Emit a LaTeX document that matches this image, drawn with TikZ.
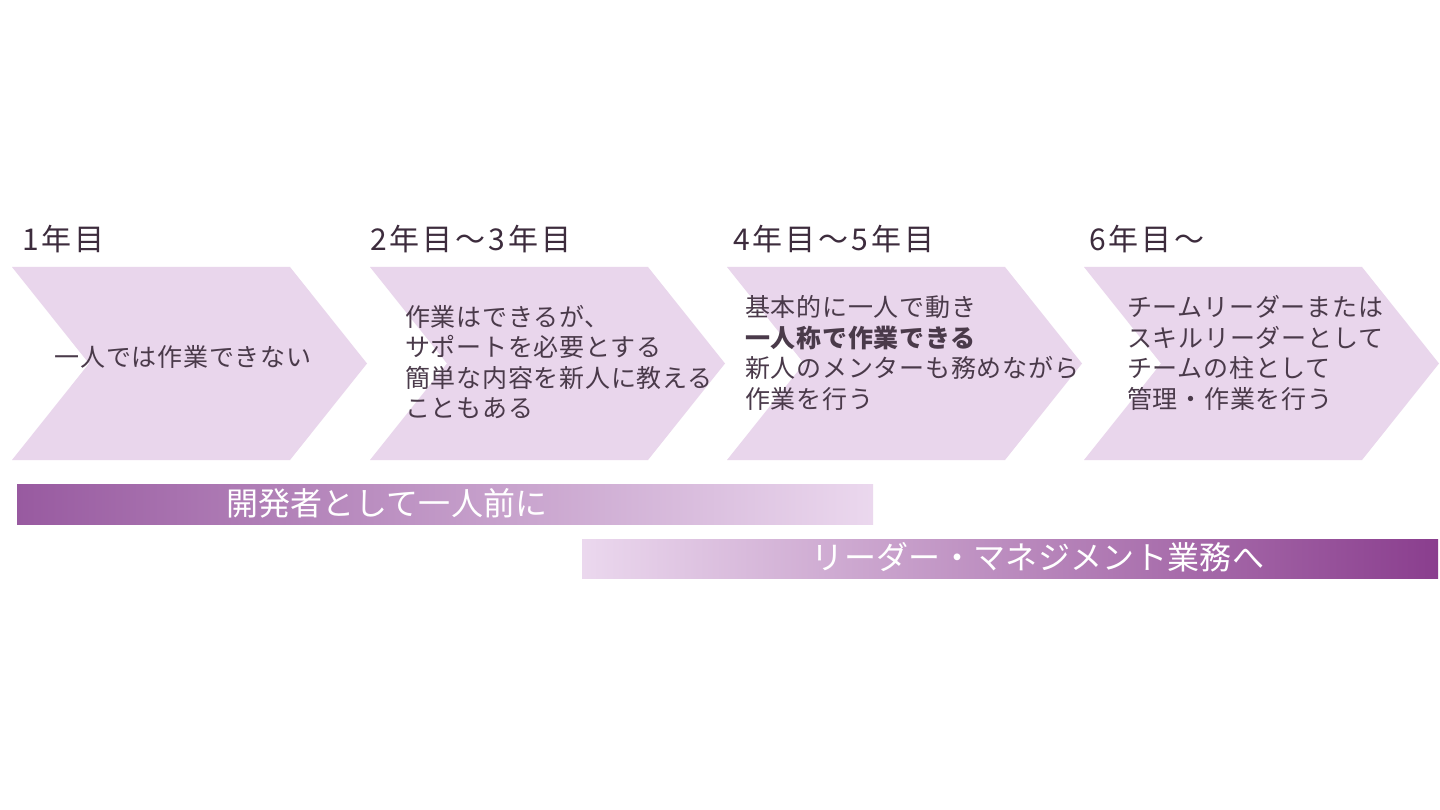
\documentclass[tikz,border=0pt]{standalone}
\usepackage{fontspec}
\setmainfont{Noto Sans CJK JP}
\usepackage{tikz}

\definecolor{chevfill}{HTML}{E9D6EC}
\definecolor{titletext}{HTML}{3D2C3D}
\definecolor{bodytext}{HTML}{4A3A4A}
\definecolor{barDark}{HTML}{8A3E8E}
\definecolor{barLeft}{HTML}{985AA0}
\definecolor{barMid}{HTML}{BA68BA}
\definecolor{barLight}{HTML}{EBD8EE}

\tikzset{
  chevron/.style={fill=chevfill},
  yeartitle/.style={anchor=base west, inner sep=0pt, text=titletext,
    font=\fontsize{30}{36}\selectfont\addfontfeatures{LetterSpace=10}},
  stagetext/.style={anchor=west, align=left, inner sep=0pt, text=bodytext,
    font=\fontsize{25}{30.5}\selectfont\addfontfeatures{LetterSpace=3}},
  bartext/.style={text=white, inner sep=0pt,
    font=\fontsize{32}{36}\selectfont\addfontfeatures{LetterSpace=1}},
}

\begin{document}
\begin{tikzpicture}[x=1pt,y=-1pt]
  \fill[white] (0,0) rectangle (1440,810);
  \useasboundingbox (0,0) rectangle (1440,810);

  % chevrons
  \foreach \x in {12,370,727,1084}
    \fill[chevron] (\x,267) -- (\x+278,267) -- (\x+355,363.5) -- (\x+278,460)
      -- (\x,460) -- (\x+77,363.5) -- cycle;

  % year titles
  \node[yeartitle] (y1) at (22,251) {1年目};
  \node[yeartitle] (y2) at (370,251) {2年目～3年目};
  \node[yeartitle] (y3) at (733,251) {4年目～5年目};
  \node[yeartitle] (y4) at (1089,251) {6年目～};

  % stage texts
  \node[stagetext, anchor=center] (s1) at (183,357) {一人では作業できない};
  \node[stagetext] (s2) at (405,362) {作業はできるが、\\サポートを必要とする\\簡単な内容を新人に教える\\こともある};
  \node[stagetext] (s3) at (745,353) {基本的に一人で動き\\\textbf{一人称で作業できる}\\新人のメンターも務めながら\\作業を行う};
  \node[stagetext] (s4) at (1127,353) {チームリーダーまたは\\スキルリーダーとして\\チームの柱として\\管理・作業を行う};

  % growth bars
  \shade[left color=barLeft, middle color=barMid, right color=barLight]
    (17,484) rectangle (873,524);
  \node[bartext] (b1) at (387,503) {開発者として一人前に};
  \shade[left color=barLight, middle color=barMid, right color=barDark]
    (582,539) rectangle (1438,578);
  \node[bartext] (b2) at (1038,557) {リーダー・マネジメント業務へ};
\end{tikzpicture}
\end{document}
